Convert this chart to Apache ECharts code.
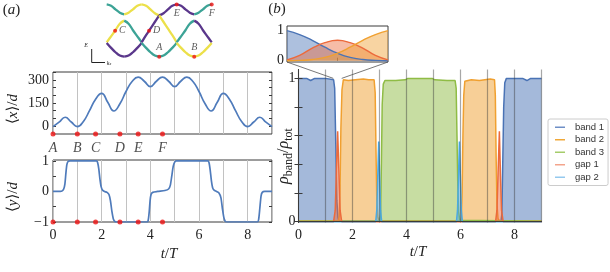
<!DOCTYPE html>
<html><head><meta charset="utf-8">
<script src="https://cdn.jsdelivr.net/npm/echarts@6/dist/echarts.min.js"></script>
<style>html,body{margin:0;padding:0;background:#fff}#c{width:610px;height:272px}</style>
</head><body><div id="c"></div>
<script>
// ---------------- data ----------------
// band diagram (panel a, top)
const bandK = [0,0.25,0.5,0.75,1,1.25,1.5,1.75,2,2.25,2.5,2.75,3,3.25,3.5,3.75,4,4.25,4.5,4.75,5,5.25,5.5,5.75,6];
const bandUpper  = [0.98,0.955,0.89,0.83,0.80,0.83,0.89,0.955,0.98,0.955,0.89,0.82,0.78,0.82,0.89,0.955,0.98,0.955,0.89,0.83,0.80,0.83,0.89,0.955,0.98];
const bandMiddle = [0.29,0.40,0.51,0.63,0.685,0.63,0.51,0.40,0.29,0.42,0.54,0.66,0.78,0.66,0.54,0.42,0.29,0.40,0.51,0.63,0.685,0.63,0.51,0.40,0.29];
const bandLower  = [0.28,0.19,0.11,0.05,0.03,0.05,0.11,0.19,0.28,0.19,0.11,0.05,0.03,0.05,0.11,0.19,0.28,0.19,0.11,0.05,0.03,0.05,0.11,0.19,0.28];
const colUpper  = ['teal','yellow','yellow','purple','purple','teal'];
const colMiddle = ['yellow','teal','purple','yellow','teal','purple'];
const colLower  = ['purple','purple','teal','teal','yellow','yellow'];
const pointNames = ['A','B','C','D','E','F'];
const pointK = [3,5,0.48,2.42,4,6];
const pointE = [0.03,0.03,0.50,0.50,0.98,0.98];

// <x>/d and <y>/d vs t/T
const tX = [0,0.25,0.5,0.75,1,1.25,1.5,1.75,2,2.25,2.5,2.75,3,3.25,3.5,3.75,4,4.25,4.5,4.75,5,5.25,5.5,5.75,6,6.25,6.5,6.75,7,7.25,7.5,7.75,8,8.25,8.5,8.75,9];
const xMean = [-4,25,57,26,-4,30,100,175,213,155,98,145,225,290,318,292,257,292,318,292,257,292,318,290,225,145,98,155,213,175,100,30,-4,26,57,25,-4];
const tY = [0,0.3,0.38,0.44,0.49,0.53,0.57,0.62,0.7,1.78,1.83,1.88,1.93,1.98,2.04,2.12,2.22,2.3,2.36,2.42,2.48,2.55,2.62,3.86,3.91,3.95,3.99,4.03,4.1,4.3,4.6,4.75,4.82,4.88,4.94,5.0,5.07,6.36,6.41,6.46,6.51,6.56,6.62,6.72,6.82,6.9,6.96,7.02,7.08,7.15,8.4,8.45,8.5,8.55,8.6,8.7,9];
const yMean = [0,0,0.02,0.08,0.25,0.6,0.88,0.98,1,1,0.96,0.75,0.4,0.15,0.04,0,-0.03,-0.1,-0.3,-0.65,-0.9,-0.99,-1,-1,-0.95,-0.7,-0.3,-0.1,-0.03,0,0.03,0.08,0.2,0.5,0.82,0.96,1,1,0.95,0.7,0.35,0.12,0.04,0,-0.05,-0.2,-0.55,-0.85,-0.98,-1,-1,-0.92,-0.55,-0.15,-0.03,0,0];
const markT = [0,1,1.75,2.75,3.5,4.5];
const xTickLabels = [0,2,4,6,8];
const xMeanTickLabels = [0,150,300];
const yMeanTickLabels = [-1,0,1];

// panel b: band populations
const tBand1 = [0,0.3,0.45,0.6,1.0,1.3,1.34,1.38,1.42,1.46,1.5,3.0,6.0,7.5,7.53,7.56,7.6,7.64,7.7,8.3,8.46,8.6,9.0];
const band1  = [1.0,1.0,0.985,1.0,1.0,0.99,0.93,0.55,0.15,0.03,0.005,0.004,0.004,0.005,0.05,0.35,0.8,0.97,1.0,1.0,0.985,1.0,1.0];
const tBand2 = [0,1.48,1.51,1.54,1.57,1.61,1.66,1.85,2.1,2.4,2.6,2.8,2.84,2.87,2.9,2.94,3.0,6.0,6.03,6.06,6.09,6.12,6.16,6.4,6.7,6.9,7.1,7.26,7.29,7.32,7.35,7.39,7.45,9.0];
const band2  = [0.005,0.005,0.04,0.25,0.65,0.92,0.99,0.985,0.99,0.995,0.99,0.99,0.9,0.5,0.15,0.03,0.005,0.005,0.03,0.2,0.6,0.88,0.98,0.99,0.985,0.99,0.995,0.99,0.88,0.45,0.12,0.02,0.005,0.005];
const tBand3 = [0,3.0,3.04,3.07,3.1,3.14,3.2,3.6,3.95,4.05,4.5,4.95,5.05,5.5,5.8,5.84,5.87,5.9,5.93,5.97,6.0,9.0];
const band3  = [0.003,0.005,0.05,0.4,0.82,0.96,0.985,0.985,0.99,1.0,1.0,1.0,0.99,0.985,0.985,0.93,0.6,0.25,0.07,0.01,0.005,0.003];
const tGap1 = [0,1.3,1.36,1.4,1.45,1.5,1.54,1.6,7.3,7.35,7.39,7.44,7.48,7.52,7.58,9.0];
const gap1  = [0,0,0.08,0.33,0.63,0.33,0.08,0,0,0.08,0.33,0.63,0.33,0.08,0,0];
const tGap2 = [0,2.86,2.9,2.93,2.97,3.01,3.04,3.08,5.85,5.89,5.92,5.96,6.0,6.03,6.07,9.0];
const gap2  = [0,0,0.08,0.28,0.56,0.28,0.08,0,0,0.08,0.28,0.56,0.28,0.08,0,0];
const seriesNames = ['band 1','band 2','band 3','gap 1','gap 2'];
const rhoTickLabels = [0,1];
const rhoTicks = [0,0.2,0.4,0.6,0.8,1];

// inset (zoom of t/T between zoomWindow)
const zoomWindow = [1.29,1.6];
const insetF = [0,0.125,0.25,0.375,0.5,0.625,0.75,0.875,1];
const insetBand1 = [1.0,0.87,0.68,0.45,0.25,0.11,0.04,0.01,0.0];
const insetGap1  = [0.03,0.18,0.42,0.6,0.68,0.6,0.42,0.18,0.03];
const insetBand2 = [0.0,0.01,0.04,0.11,0.25,0.45,0.68,0.87,1.0];

// ---------------- styles ----------------
const serif = '"Liberation Serif","DejaVu Serif",serif';
const sans = '"Liberation Sans",Arial,sans-serif';
const bandPalette = {teal:'#3ca396', yellow:'#ece04a', purple:'#5a378b'};
const lineCols = ['#4a73b5','#f0a030','#8fbc45','#ec6a3c','#4ba9e2'];
const legendCols = ['#6e8fc6','#f0a838','#a5cc6a','#f3a48c','#94c9ee'];
const txt = '#222';
const pair = (ts, vs) => ts.map((t,i)=>[t, vs[i]]);
const fmtNum = v => v < 0 ? '\u2212' + Math.abs(v) : String(v);

const chart = echarts.init(document.getElementById('c'));

const series = [];
// band diagram
[[bandUpper,colUpper],[bandMiddle,colMiddle],[bandLower,colLower]].forEach(([vals,cols])=>{
  cols.forEach((c,s)=>{
    series.push({type:'line', xAxisIndex:0, yAxisIndex:0, smooth:0.4, symbol:'none', silent:true,
      lineStyle:{color:bandPalette[c], width:2.3}, z:3,
      data: bandK.slice(4*s,4*s+5).map((k,i)=>[k, vals[4*s+i]])});
  });
});
const ptLabelPos = ['top','top','right','right','bottom','bottom'];
series.push({type:'scatter', xAxisIndex:0, yAxisIndex:0, symbolSize:4, z:5, silent:true,
  itemStyle:{color:'#ee1111'},
  data: pointK.map((k,i)=>({value:[k,pointE[i]], label:{show:true, position:ptLabelPos[i], distance:2,
     formatter:pointNames[i], fontFamily:serif, fontStyle:'italic', fontSize:10, color:'#333'}}))});

// <x>/d
series.push({type:'line', xAxisIndex:1, yAxisIndex:1, smooth:0.5, symbol:'none', z:3,
  lineStyle:{color:'#4f7bbb', width:1.7}, data: pair(tX, xMean)});
series.push({type:'scatter', xAxisIndex:1, yAxisIndex:1, symbolSize:5, clip:false, z:6,
  itemStyle:{color:'#ee1111'},
  data: markT.map((t,i)=>({value:[t,-52], label:{show:true, position:'bottom', distance:5,
     formatter:pointNames[i], fontFamily:serif, fontStyle:'italic', fontSize:14, color:txt}}))});
// <y>/d
series.push({type:'line', xAxisIndex:2, yAxisIndex:2, smooth:0.25, symbol:'none', z:3,
  lineStyle:{color:'#4f7bbb', width:1.7}, data: pair(tY, yMean)});
series.push({type:'scatter', xAxisIndex:2, yAxisIndex:2, symbolSize:5, clip:false, z:6,
  itemStyle:{color:'#ee1111'}, data: markT.map(t=>[t,-1])});

// panel b
const bandSets = [[tBand1,band1],[tBand2,band2],[tBand3,band3],[tGap1,gap1],[tGap2,gap2]];
bandSets.forEach(([ts,vs],i)=>{
  series.push({name:seriesNames[i], type:'line', xAxisIndex:3, yAxisIndex:3, symbol:'none', z:3+i,
    lineStyle:{color:lineCols[i], width:1.5}, itemStyle:{color:lineCols[i]},
    areaStyle:{color:lineCols[i], opacity:0.5}, data: pair(ts, vs)});
});
// inset
[[insetBand1,0],[insetGap1,3],[insetBand2,1]].forEach(([vs,ci])=>{
  series.push({name:'inset '+ci, type:'line', xAxisIndex:5, yAxisIndex:5, symbol:'none', smooth:true, z:3,
    lineStyle:{color:lineCols[ci], width:1.4}, areaStyle:{color:lineCols[ci], opacity:0.45},
    data: pair(insetF, vs)});
});

const labelFont = {fontFamily:serif, fontSize:14, color:txt};
const option = {
  animation:false,
  backgroundColor:'#fff',
  grid:[
    {left:106.7, top:3.3, width:105, height:55, show:false},
    {left:53, top:72, width:219, height:62, show:true, borderColor:'#3a3a3a', borderWidth:1},
    {left:53, top:160, width:219, height:62, show:true, borderColor:'#3a3a3a', borderWidth:1},
    {left:298.5, top:69.5, width:243, height:153, show:false},
    {left:287, top:26, width:101, height:36, show:true, borderColor:'#3a3a3a', borderWidth:1}
  ],
  xAxis:[
    {gridIndex:0, type:'value', min:0, max:6, show:false},
    {gridIndex:1, type:'value', min:0, max:9, interval:1, axisLine:{show:false}, axisTick:{show:false},
      axisLabel:{show:false}, splitLine:{show:true, lineStyle:{color:'#c2c2c2', width:1}}},
    {gridIndex:2, type:'value', min:0, max:9, interval:1, axisLine:{show:false}, axisTick:{show:false},
      axisLabel:Object.assign({customValues:xTickLabels, margin:6}, labelFont),
      splitLine:{show:true, lineStyle:{color:'#c2c2c2', width:1}}},
    {gridIndex:3, type:'value', min:0, max:9, interval:1, z:10,
      axisLine:{show:true, lineStyle:{color:'#3a3a3a', width:1}}, axisTick:{show:false},
      axisLabel:Object.assign({customValues:xTickLabels, margin:6}, labelFont),
      splitLine:{show:true, lineStyle:{color:'rgba(60,60,60,0.45)', width:1.2}}},
    {gridIndex:3, type:'value', position:'top', min:0, max:9, z:10,
      axisLine:{show:true, lineStyle:{color:'#3a3a3a', width:1}}, axisTick:{show:false},
      axisLabel:{show:false}, splitLine:{show:false}},
    {gridIndex:4, type:'value', min:0, max:1, axisLine:{show:false},
      axisTick:{show:true, inside:true, length:3, customValues:[0.5], lineStyle:{color:'#3a3a3a'}},
      axisLabel:{show:false}, splitLine:{show:false}}
  ],
  yAxis:[
    {gridIndex:0, type:'value', min:0, max:1, show:false},
    {gridIndex:1, type:'value', min:-52, max:352, axisLine:{show:false},
      axisTick:{show:true, inside:true, length:3, customValues:[0,50,100,150,200,250,300,350], lineStyle:{color:'#3a3a3a'}},
      axisLabel:Object.assign({customValues:xMeanTickLabels, margin:4}, labelFont), splitLine:{show:false}},
    {gridIndex:2, type:'value', min:-1, max:1.03, axisLine:{show:false},
      axisTick:{show:true, inside:true, length:3, customValues:[-1,-0.5,0,0.5,1], lineStyle:{color:'#3a3a3a'}},
      axisLabel:Object.assign({customValues:yMeanTickLabels, margin:4, formatter:fmtNum}, labelFont), splitLine:{show:false}},
    {gridIndex:3, type:'value', min:-0.006, max:1.062, z:10,
      axisLine:{show:true, lineStyle:{color:'#3a3a3a', width:1}},
      axisTick:{show:true, inside:true, length:4, customValues:rhoTicks, lineStyle:{color:'#3a3a3a'}},
      axisLabel:Object.assign({customValues:rhoTickLabels, margin:3}, labelFont), splitLine:{show:false}},
    {gridIndex:3, type:'value', position:'right', min:-0.006, max:1.062, z:10,
      axisLine:{show:true, lineStyle:{color:'#3a3a3a', width:1}},
      axisTick:{show:true, inside:true, length:4, customValues:rhoTicks, lineStyle:{color:'#3a3a3a'}},
      axisLabel:{show:false}, splitLine:{show:false}},
    {gridIndex:4, type:'value', min:-0.043, max:1.155, axisLine:{show:false}, axisTick:{show:false},
      axisLabel:Object.assign({customValues:rhoTickLabels, margin:3}, labelFont), splitLine:{show:false}},
    {gridIndex:1, type:'value', position:'right', min:-52, max:352, axisLine:{show:false},
      axisTick:{show:true, inside:true, length:3, customValues:[0,50,100,150,200,250,300,350], lineStyle:{color:'#3a3a3a'}},
      axisLabel:{show:false}, splitLine:{show:false}},
    {gridIndex:2, type:'value', position:'right', min:-1, max:1.03, axisLine:{show:false},
      axisTick:{show:true, inside:true, length:3, customValues:[-1,-0.5,0,0.5,1], lineStyle:{color:'#3a3a3a'}},
      axisLabel:{show:false}, splitLine:{show:false}}
  ],
  legend:{
    data: seriesNames.map((n,i)=>({name:n, itemStyle:{color:legendCols[i]}})),
    orient:'vertical', left:548, top:119, icon:'rect', itemWidth:10, itemHeight:1.5, itemGap:0,
    padding:[2,4,2,7], borderColor:'#cccccc', borderWidth:1, borderRadius:2, selectedMode:false,
    textStyle:{fontFamily:sans, fontSize:9.5, color:'#333', lineHeight:12.5, padding:[0,0,0,5]}
  },
  series: series
};
chart.setOption(option);

// ---------------- text & decorations ----------------
const R = (fs, extra) => Object.assign({fontFamily:serif, fontSize:fs, fill:txt}, extra||{});
const I = (fs, extra) => Object.assign({fontFamily:serif, fontSize:fs, fontStyle:'italic', fill:txt}, extra||{});
const T = (x, y, text, rich, rot) => ({type:'text', x:x, y:y, rotation:rot||0, silent:true, z:20,
  style:{text:text, rich:rich, align:'center', verticalAlign:'middle'}});
const graphics = [
  T(11.5, 10, '{r|(}{i|a}{r|)}', {r:R(15), i:I(15)}),
  T(277, 9, '{r|(}{i|b}{r|)}', {r:R(15), i:I(15)}),
  T(13, 109, '{r|\u27E8}{i|x}{r|\u27E9/}{i|d}', {r:R(15), i:I(15)}, Math.PI/2),
  T(13, 197, '{r|\u27E8}{i|y}{r|\u27E9/}{i|d}', {r:R(15), i:I(15)}, Math.PI/2),
  T(169, 254, '{i|t}{r|/}{i|T}', {r:R(15), i:I(15)}),
  T(418, 252, '{i|t}{r|/}{i|T}', {r:R(15), i:I(15)}),
  T(285, 156, '{m|\u03C1}{s|band}{r|/}{m|\u03C1}{s|tot}',
    {m:I(16,{lineHeight:19, verticalAlign:'top'}), r:R(16,{lineHeight:19, verticalAlign:'top'}),
     s:R(12,{lineHeight:9, verticalAlign:'bottom'})}, Math.PI/2),
  // E / k_x axes indicator
  {type:'polyline', silent:true, z:20, shape:{points:[[91.7,49],[91.7,62.5],[105,62.5]]},
    style:{stroke:'#222', lineWidth:1, fill:null}},
  T(86, 45, '{i|E}', {i:I(6)}),
  T(109, 63, '{i|k}{s|x}', {i:I(6), s:I(4,{lineHeight:6, verticalAlign:'bottom'})})
];
// connector lines between inset and main plot
const a1 = chart.convertToPixel({gridIndex:4}, [0, -0.043]);
const a2 = chart.convertToPixel({gridIndex:4}, [1, -0.043]);
const b1 = chart.convertToPixel({gridIndex:3}, [zoomWindow[0], 1]);
const b2 = chart.convertToPixel({gridIndex:3}, [zoomWindow[1], 1]);
graphics.push({type:'line', silent:true, z:20, shape:{x1:a1[0], y1:a1[1], x2:b1[0], y2:b1[1]}, style:{stroke:'#555', lineWidth:0.8}});
graphics.push({type:'line', silent:true, z:20, shape:{x1:a2[0], y1:a2[1], x2:b2[0], y2:b2[1]}, style:{stroke:'#555', lineWidth:0.8}});
chart.setOption({graphic: graphics});
</script></body></html>
